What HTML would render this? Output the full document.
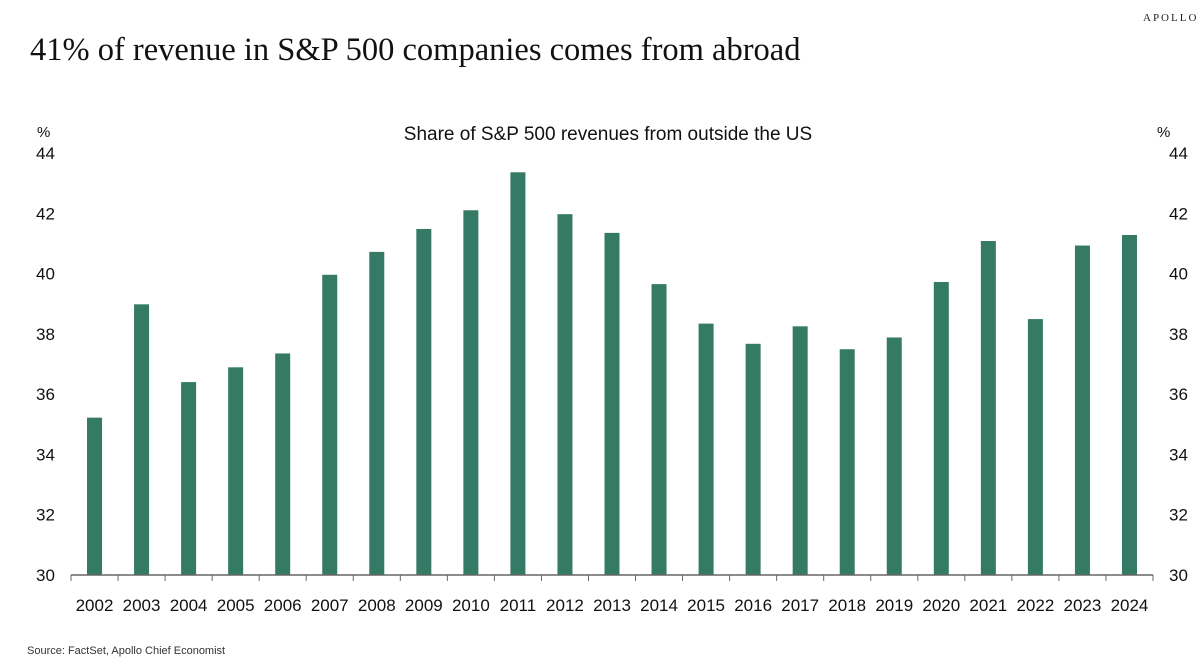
<!DOCTYPE html>
<html><head><meta charset="utf-8"><style>
body{margin:0;background:#fff;width:1200px;height:665px;overflow:hidden;position:relative;font-family:"Liberation Sans",sans-serif}
.t{position:absolute;white-space:nowrap}
</style></head><body>
<div class="t" style="left:1143px;top:12px;font-family:'Liberation Serif',serif;font-size:11px;letter-spacing:2px;color:#222">APOLLO</div>
<div class="t" style="left:30px;top:32px;font-family:'Liberation Serif',serif;font-size:32.5px;color:#111">41% of revenue in S&amp;P 500 companies comes from abroad</div>
<div class="t" style="left:27px;top:645px;font-size:11px;color:#333">Source: FactSet, Apollo Chief Economist</div>
<svg id="chart" width="1200" height="665" style="position:absolute;left:0;top:0" font-family="Liberation Sans, sans-serif"></svg>
<script>
const categories=["2002","2003","2004","2005","2006","2007","2008","2009","2010","2011","2012","2013","2014","2015","2016","2017","2018","2019","2020","2021","2022","2023","2024"];
const values=[35.22,38.98,36.40,36.89,37.35,39.96,40.72,41.48,42.10,43.36,41.97,41.35,39.65,38.34,37.67,38.25,37.49,37.88,39.72,41.08,38.49,40.93,41.28];
const yTicks=[30,32,34,36,38,40,42,44];
const svg=document.getElementById('chart');
const NS='http://www.w3.org/2000/svg';
const x0=71,x1=1153,y0=575,y1=153,vmin=30,vmax=44;
const step=(x1-x0)/categories.length;
function y(v){return y0-(v-vmin)/(vmax-vmin)*(y0-y1);}
function xc(i){return x0+step*(i+0.5);}
function mk(tag,attrs,text){const e=document.createElementNS(NS,tag);for(const k in attrs)e.setAttribute(k,attrs[k]);if(text!==undefined)e.textContent=text;svg.appendChild(e);return e;}
let e=mk('text',{x:608,y:140,'text-anchor':'middle','font-size':19,fill:'#111'},'Share of S&P 500 revenues from outside the US');


categories.forEach((c,i)=>{
  const b=mk('rect',{x:xc(i)-7.5,y:y(values[i]),width:15,height:y0-y(values[i]),fill:'#357a64'});
  
  
  const l=mk('text',{x:xc(i),y:611,'text-anchor':'middle','font-size':17,fill:'#111'},c);
  
  
});
for(let i=0;i<=categories.length;i++){
  const t=mk('line',{x1:x0+step*i,x2:x0+step*i,y1:y0,y2:y0+6,stroke:'#666','stroke-width':1});
  
  
}
const ax=mk('line',{x1:x0,x2:x1,y1:y0,y2:y0,stroke:'#666','stroke-width':1.5});


yTicks.forEach(v=>{
  const a=mk('text',{x:36,y:y(v)+6,'font-size':17,fill:'#111'},String(v));
  
  
  const b=mk('text',{x:1169,y:y(v)+6,'font-size':17,fill:'#111'},String(v));
  
  
});
let p=mk('text',{x:37,y:137,'font-size':15,fill:'#111'},'%');


p=mk('text',{x:1157,y:137,'font-size':15,fill:'#111'},'%');


</script>
</body></html>
